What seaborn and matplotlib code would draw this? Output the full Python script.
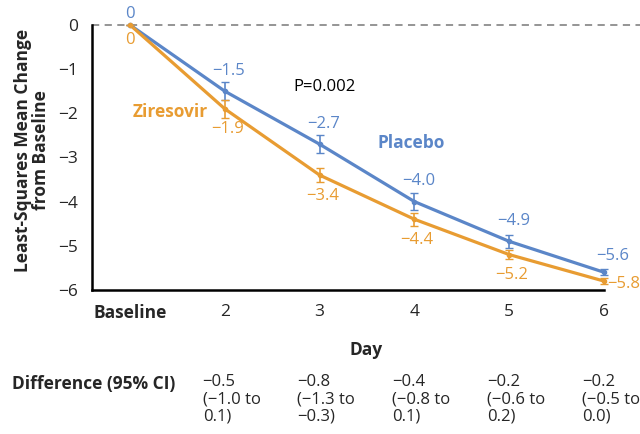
import numpy as np
import pandas as pd
import matplotlib
matplotlib.use("Agg")
import matplotlib.pyplot as plt
import seaborn as sns

days = [1, 2, 3, 4, 5, 6]
day_labels = ["Baseline", "2", "3", "4", "5", "6"]
placebo = [0, -1.5, -2.7, -4.0, -4.9, -5.6]
placebo_ci = [0, 0.2, 0.2, 0.2, 0.15, 0.07]
ziresovir = [0, -1.9, -3.4, -4.4, -5.2, -5.8]
ziresovir_ci = [0, 0.2, 0.15, 0.15, 0.1, 0.07]
diff_text = ["\u22120.5\n(\u22121.0 to\n0.1)", "\u22120.8\n(\u22121.3 to\n\u22120.3)",
             "\u22120.4\n(\u22120.8 to\n0.1)", "\u22120.2\n(\u22120.6 to\n0.2)",
             "\u22120.2\n(\u22120.5 to\n0.0)"]

blue = "#5b86c8"
orange = "#e89c32"

sns.set_style("white")
plt.rcParams["font.family"] = ["Open Sans", "DejaVu Sans"]
plt.rcParams["axes.unicode_minus"] = True
fs = 12.5
fl = 12

df = pd.DataFrame({
    "day": days * 2,
    "value": placebo + ziresovir,
    "group": ["Placebo"] * 6 + ["Ziresovir"] * 6,
})

fig = plt.figure(figsize=(6.4, 4.34), dpi=100)
ax = fig.add_axes([0.144, 0.332, 0.856, 0.645])

sns.lineplot(data=df, x="day", y="value", hue="group", palette={"Placebo": blue, "Ziresovir": orange},
             lw=2.3, legend=False, ax=ax, zorder=3)
ax.errorbar(days, placebo, yerr=placebo_ci, fmt="none", ecolor=blue, elinewidth=1.2, capsize=3, zorder=4)
ax.errorbar(days, ziresovir, yerr=ziresovir_ci, fmt="none", ecolor=orange, elinewidth=1.2, capsize=3, zorder=4)
ax.plot(days, placebo, "o", color=blue, ms=3, zorder=5)
ax.plot(days, ziresovir, "o", color=orange, ms=3, zorder=5)

ax.axhline(0, color="#8c8c8c", lw=1.3, ls=(0, (4, 3)), zorder=1)

ax.set_xlim(0.6, 6.38)
ax.set_ylim(-6, 0.34)
ax.set_xticks(days)
ax.set_xticklabels(day_labels, fontsize=fs)
ax.get_xticklabels()[0].set_fontweight("bold")
ax.set_yticks(range(-6, 1))
ax.set_yticklabels([str(v).replace("-", "\u2212") for v in range(-6, 1)], fontsize=fs)
ax.tick_params(axis="both", direction="out", length=6, width=1.5, color="black", pad=4)
for s in ["top", "right"]:
    ax.spines[s].set_visible(False)
for s in ["left", "bottom"]:
    ax.spines[s].set_linewidth(1.8)
    ax.spines[s].set_color("black")
ax.spines["left"].set_bounds(-6, 0)
ax.spines["bottom"].set_bounds(0.6, 6)
ax.set_xlabel("Day", fontsize=fs, fontweight="bold", labelpad=14)
ax.set_ylabel("Least-Squares Mean Change\nfrom Baseline", fontsize=fs, fontweight="bold",
              labelpad=6, linespacing=1.0)

# value labels
for i, (d, v) in enumerate(zip(days, placebo)):
    if i == 0:
        off = (0, 2)
    elif i < 5:
        off = (3, 9)
    else:
        off = (6, 6)
    ax.annotate(f"{v:.1f}".replace("-", "\u2212") if i else "0", (d, v), xytext=off,
                textcoords="offset points", ha="center", va="bottom", color=blue, fontsize=fl)
for i, (d, v) in enumerate(zip(days, ziresovir)):
    if i == 0:
        off, ha, va = (0, -5), "center", "top"
    elif i < 5:
        off, ha, va = (2, -9), "center", "top"
    else:
        off, ha, va = (2, -2), "left", "center"
    ax.annotate(f"{v:.1f}".replace("-", "\u2212") if i else "0", (d, v), xytext=off,
                textcoords="offset points", ha=ha, va=va, color=orange, fontsize=fl)

ax.text(3.05, -1.40, "P=0.002", fontsize=fl, color="black", ha="center", va="center")
ax.text(1.82, -1.97, "Ziresovir", fontsize=fs, color=orange, fontweight="bold", ha="right", va="center")
ax.text(3.97, -2.67, "Placebo", fontsize=fs, color=blue, fontweight="bold", ha="center", va="center")

fig.text(12 / 640, 1 - 384 / 434, "Difference (95% CI)", fontsize=fs, fontweight="bold",
         ha="left", va="center")
for d, t in zip(days[1:], diff_text):
    ax.annotate(t, (d, 1 - 374 / 434), xycoords=("data", "figure fraction"), xytext=(-16, 0),
                textcoords="offset points", ha="left", va="top", fontsize=fl, linespacing=1.12)

fig.savefig("out.png", dpi=100)
